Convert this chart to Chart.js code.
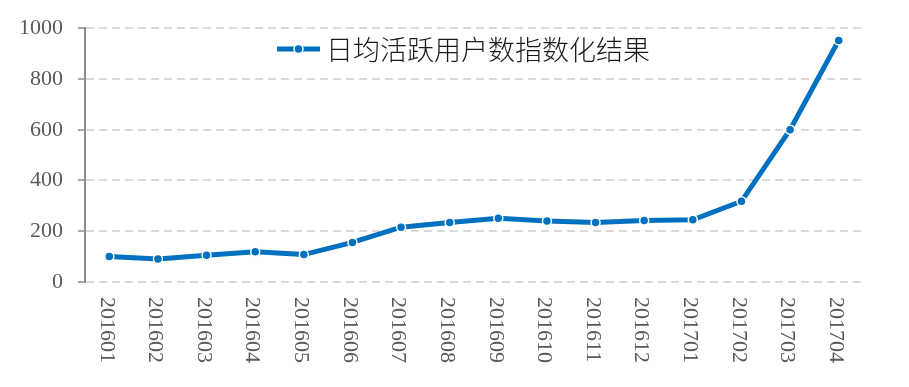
<!DOCTYPE html>
<html>
<head>
<meta charset="utf-8">
<script src="https://cdn.jsdelivr.net/npm/chart.js@4/dist/chart.umd.min.js"></script>
<style>
    html, body { margin: 0; padding: 0; background: #fff; }
    #wrap { width: 909px; height: 387px; }
</style>
</head>
<body>
<div id="wrap"><canvas id="dauChart"></canvas></div>
<script>
const months = ['201601', '201602', '201603', '201604', '201605', '201606', '201607', '201608',
                '201609', '201610', '201611', '201612', '201701', '201702', '201703', '201704'];
const dauIndex = [100, 91, 105, 119, 108, 156, 216, 234, 251, 240, 234, 242, 245, 318, 600, 952];
const seriesName = '日均活跃用户数指数化结果';

const BLUE = '#0070C0';
const TICK_FONT = '22px "Liberation Serif", serif';

// x labels read top-to-bottom (rotated clockwise), which Chart.js can't do natively
const downLabels = {
    id: 'downLabels',
    afterDraw(chart) {
        const { ctx, scales: { x } } = chart;
        ctx.save();
        ctx.font = TICK_FONT;
        ctx.fillStyle = '#595959';
        ctx.textAlign = 'left';
        ctx.textBaseline = 'middle';
        months.forEach((m, i) => {
            ctx.save();
            ctx.translate(x.getPixelForTick(i) - 3, chart.chartArea.bottom + 15);
            ctx.rotate(Math.PI / 2);
            ctx.fillText(m, 0, 0);
            ctx.restore();
        });
        ctx.restore();
    }
};

// legend sits inside the plot, line + marker then the series name
const innerLegend = {
    id: 'innerLegend',
    afterDatasetsDraw(chart) {
        const { ctx } = chart;
        const y = 49, x0 = 277, x1 = 320;
        ctx.save();
        ctx.strokeStyle = BLUE;
        ctx.lineWidth = 5;
        ctx.beginPath();
        ctx.moveTo(x0, y);
        ctx.lineTo(x1, y);
        ctx.stroke();
        ctx.beginPath();
        ctx.arc((x0 + x1) / 2, y, 4.5, 0, Math.PI * 2);
        ctx.fillStyle = BLUE;
        ctx.fill();
        ctx.lineWidth = 1.5;
        ctx.strokeStyle = '#fff';
        ctx.stroke();
        ctx.font = '300 27px "Noto Sans CJK SC", sans-serif';
        ctx.fillStyle = '#1a1a1a';
        ctx.textAlign = 'left';
        ctx.textBaseline = 'middle';
        ctx.fillText(seriesName, 326, y + 1);
        ctx.restore();
    }
};

new Chart(document.getElementById('dauChart').getContext('2d'), {
    type: 'line',
    data: {
        labels: months,
        datasets: [{
            label: seriesName,
            data: dauIndex,
            borderColor: BLUE,
            borderWidth: 5,
            pointBackgroundColor: BLUE,
            pointBorderColor: '#fff',
            pointBorderWidth: 1.5,
            pointRadius: 4.5,
            tension: 0,
            fill: false
        }]
    },
    options: {
        responsive: true,
        maintainAspectRatio: false,
        animation: false,
        layout: { padding: { top: 28, right: 46, bottom: 105, left: 0 } },
        plugins: { legend: { display: false }, tooltip: { enabled: false } },
        scales: {
            x: {
                offset: true,
                ticks: { display: false },
                grid: { display: false },
                border: { display: false },
                afterFit: s => { s.height = 0; }
            },
            y: {
                min: 0,
                max: 1000,
                ticks: {
                    stepSize: 200, color: '#595959', padding: 15,
                    font: { family: '"Liberation Serif", serif', size: 22 },
                    callback: v => String(v)
                },
                grid: { color: '#d9d9d9', lineWidth: 2, tickLength: 7, tickColor: '#8c8c8c', tickWidth: 1.5, tickBorderDash: [] },
                border: { display: true, color: '#8c8c8c', width: 2, dash: [8, 5] },
                afterFit: s => { s.width = 85; }
            }
        }
    },
    plugins: [downLabels, innerLegend]
});
</script>
</body>
</html>
